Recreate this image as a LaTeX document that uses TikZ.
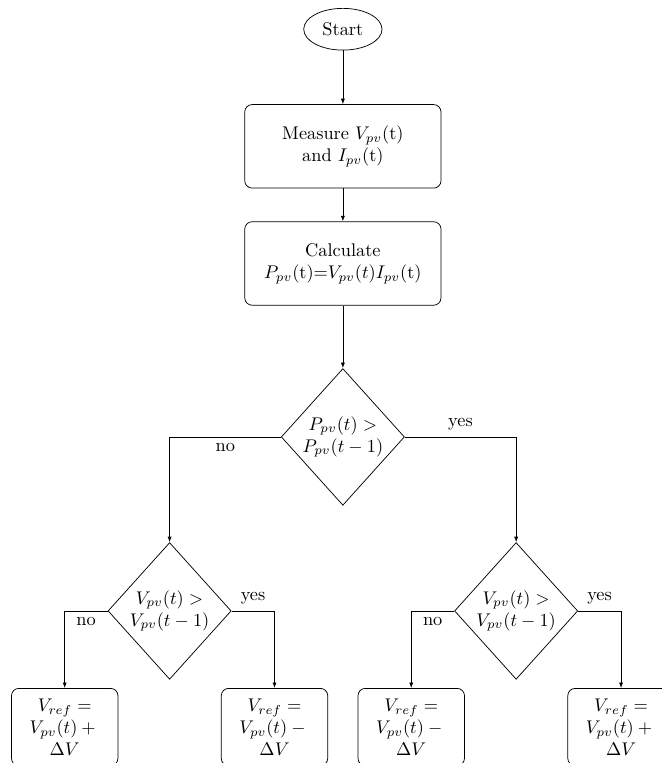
\documentclass[tikz,border=0pt]{standalone}
\usepackage{amsmath, amssymb}
\usepackage{tikz}
\usetikzlibrary{arrows.meta, positioning, shapes.geometric}

\begin{document}
\begin{tikzpicture}[
  terminal/.style={ellipse, draw, minimum width=15mm, minimum height=8mm},
  block/.style={rectangle, draw, rounded corners, align=center, minimum height=16mm},
  process/.style={block, minimum width=37.6mm},
  result/.style={block, minimum width=20.4mm, minimum height=14.8mm},
  decision/.style={diamond, draw, align=center, inner sep=0pt, minimum width=23.6mm, minimum height=26.2mm},
  edge/.style={-{Latex[length=3pt]}}
]
\useasboundingbox (-65.7mm,5.6mm) rectangle (61.1mm,-140.6mm);

\node[terminal] (start) {Start};
\node[process, below=10.3mm of start] (measure) {Measure $V_{pv}$(t)\\ and $I_{pv}$(t)};
\node[process, below=6.3mm of measure] (calc) {Calculate\\ $P_{pv}$(t)=$V_{pv}(t)I_{pv}$(t)};
\node[decision, below=12mm of calc] (pcheck) {$P_{pv}(t) >$\\ $P_{pv}(t-1)$};

\node[decision, below=7mm of pcheck, xshift=-33.2mm] (vcheckl) {$V_{pv}(t) >$\\ $V_{pv}(t-1)$};
\node[decision, below=7mm of pcheck, xshift=33.2mm] (vcheckr) {$V_{pv}(t) >$\\ $V_{pv}(t-1)$};

\node[result, below=1.6mm of vcheckl, xshift=-20.1mm] (incl) {$V_{ref} =$\\ $V_{pv}(t) +{}$\\ $\Delta V$};
\node[result, below=1.6mm of vcheckl, xshift=20.1mm] (decl) {$V_{ref} =$\\ $V_{pv}(t) -{}$\\ $\Delta V$};
\node[result, below=1.6mm of vcheckr, xshift=-20.1mm] (decr) {$V_{ref} =$\\ $V_{pv}(t) -{}$\\ $\Delta V$};
\node[result, below=1.6mm of vcheckr, xshift=20.1mm] (incr) {$V_{ref} =$\\ $V_{pv}(t) +{}$\\ $\Delta V$};

\draw[edge] (start) -- (measure);
\draw[edge] (measure) -- (calc);
\draw[edge] (calc) -- (pcheck);
\draw[edge] (pcheck.west) -| node[pos=0.25, below] {no} (vcheckl);
\draw[edge] (pcheck.east) -| node[pos=0.25, above] {yes} (vcheckr);
\draw[edge] (vcheckl.west) -| node[pos=0.25, below] {no} (incl);
\draw[edge] (vcheckl.east) -| node[pos=0.25, above] {yes} (decl);
\draw[edge] (vcheckr.west) -| node[pos=0.25, below] {no} (decr);
\draw[edge] (vcheckr.east) -| node[pos=0.25, above] {yes} (incr);
\end{tikzpicture}
\end{document}
